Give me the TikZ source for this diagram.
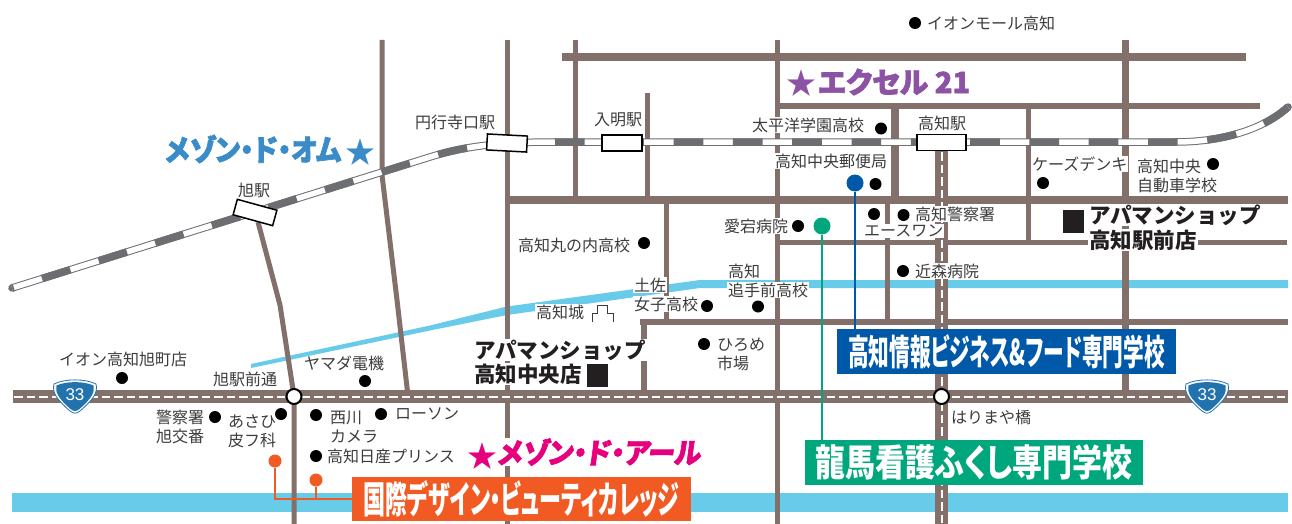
\documentclass[tikz,border=0pt]{standalone}
\usepackage{graphicx}
\usepackage{fontspec}
\setmainfont{Noto Sans CJK JP}
\newfontfamily\jpfont{Noto Sans CJK JP}
\newfontfamily\jpheavy{Noto Sans CJK JP}[RawFeature={+palt},BoldFeatures={FakeBold=2.2,RawFeature={+palt}}]
\newfontfamily\jpslant{Noto Sans CJK JP}[RawFeature={+palt},BoldFeatures={FakeSlant=0.14,FakeBold=2.4,RawFeature={+palt}}]
\newfontfamily\jpbanner{Noto Sans CJK JP}[RawFeature={+palt},BoldFeatures={RawFeature={+palt}}]
\newfontfamily\latinfont{Liberation Sans}
\definecolor{road}{HTML}{84706A}
\definecolor{river}{HTML}{68CBEA}
\definecolor{railgrey}{HTML}{6D6E71}
\definecolor{labeltxt}{HTML}{3C3C3C}
\definecolor{shieldblue}{HTML}{2273AD}
\definecolor{bannerblue}{HTML}{0058A8}
\definecolor{bannergreen}{HTML}{00A77D}
\definecolor{bannerorange}{HTML}{F15A22}
\definecolor{omblue}{HTML}{3A8CC9}
\definecolor{excelpurple}{HTML}{8C52A3}
\definecolor{arupink}{HTML}{E6007E}
\definecolor{shopblack}{HTML}{231F20}
\tikzset{
  rd/.style={draw=road,line width=#1},
  rd/.default=5,
  wdash/.style={draw=white,line width=2,dash pattern=on 8.5pt off 4pt},
  dotnode/.style={circle,fill=black,inner sep=0pt,minimum size=12pt},
  lbl/.style={anchor=west,inner sep=0pt,text=labeltxt,font=\jpfont\fontsize{16}{19}\selectfont,align=left},
  lblh/.style={lbl,fill=white,inner sep=.8pt,xshift=-.8pt},
  shop/.style={anchor=west,inner sep=0pt,text=shopblack,font=\jpfont\bfseries\fontsize{21.5}{25}\selectfont,align=left},
  shoph/.style={shop,fill=white,inner sep=.8pt,xshift=-1.8pt},
  shopsq/.style={fill=shopblack,inner sep=0pt,minimum width=21pt,minimum height=23pt},
  station/.style={draw=black,fill=white,line width=1.5pt,inner sep=0pt,minimum height=16pt},
  banner/.style={inner sep=0pt,text=white,font=\jpbanner\bfseries\fontsize{30}{30}\selectfont},
  junction/.style={circle,draw=black,fill=white,line width=2pt,inner sep=0pt,minimum size=15pt},
  bigdot/.style={circle,inner sep=0pt,minimum size=#1},
  lead/.style={line width=2pt},
  starmark/.style={inner sep=0pt,font=\jpfont\fontsize{30}{30}\selectfont},
}
\newcommand{\shieldat}[3]{%
  \begin{scope}[shift={(#1,#2)}]
    \fill[white] (-21,-12) .. controls (-10,-17.5) and (10,-17.5) .. (21,-12) .. controls (23,-4) and (19,3) .. (5,15) .. controls (1,18) and (-1,18) .. (-5,15) .. controls (-19,3) and (-23,-4) .. (-21,-12) -- cycle;
    \draw[shieldblue,line width=.8pt] (-21,-12) .. controls (-10,-17.5) and (10,-17.5) .. (21,-12) .. controls (23,-4) and (19,3) .. (5,15) .. controls (1,18) and (-1,18) .. (-5,15) .. controls (-19,3) and (-23,-4) .. (-21,-12) -- cycle;
    \fill[shieldblue] (-18.5,-10.5) .. controls (-9,-15) and (9,-15) .. (18.5,-10.5) .. controls (20,-4) and (17,2) .. (4.5,13) .. controls (1,15.7) and (-1,15.7) .. (-4.5,13) .. controls (-17,2) and (-20,-4) .. (-18.5,-10.5) -- cycle;
    \node[inner sep=0pt,text=white,font=\latinfont\fontsize{17}{17}\selectfont] (#3) at (0,-1) {33};
  \end{scope}}
\begin{document}
\begin{tikzpicture}[x=1pt,y=-1pt]
\useasboundingbox (0,0) rectangle (1292,524);
\fill[white] (0,0) rectangle (1292,524);
% rivers
\fill[river] (12,493) rectangle (1288,512);
\fill[river] (251,364) -- (430,325.5) -- (507,306.5) -- (700,280) -- (1288,280) -- (1288,288) -- (700,288) -- (507,315) -- (430,330.5) -- (251,368) -- cycle;
% horizontal roads
\draw[rd=8] (562,57) -- (1246,57);
\draw[rd=6] (776,106) -- (1260,106);
\draw[rd=8] (507,200) -- (1288,200);
\draw[rd=5] (777,242) -- (1287,242);
\draw[rd=6.5] (640,322) -- (1288,322);
% vertical roads
\draw[rd=5] (258,222) -- (280,305) -- (294,396) -- (294,524);
\draw[rd=5] (382,40) -- (382,175) -- (397,300) -- (408,396);
\draw[rd=5] (507,40) -- (507,524);
\draw[rd=5] (575,40) -- (575,200);
\draw[rd=5] (647,93) -- (647,200);
\draw[rd=5] (666,200) -- (666,322);
\draw[rd=6] (644,322) -- (644,396);
\draw[rd=5] (777,40) -- (777,524);
\draw[rd=8] (895,106) -- (895,200);
\draw[rd=5] (887,200) -- (887,322);
\draw[rd=5] (1028,106) -- (1028,242);
\draw[rd=7] (1125.5,40) -- (1125.5,396);
% national route
\draw[rd=13] (13,396.5) -- (1288,396.5);
\draw[wdash] (14,396.5) -- (1288,396.5);
% dashed street from Kochi station
\draw[rd=13] (941.5,150) -- (941.5,524);
\draw[wdash] (941.5,152) -- (941.5,524);
% railway
\def\railL{(12,288) -- (430,157) .. controls (465,146) and (500,142) .. (555,142)}
\def\railR{(555,142) -- (1175,142) .. controls (1225,142) and (1265,128) .. (1288,107)}
\draw[railgrey,line width=7.5pt,line cap=round] \railL;
\draw[railgrey,line width=7.5pt,line cap=round] \railR;
\draw[white,line width=5.5pt] \railL;
\draw[white,line width=5.5pt] \railR;
\draw[railgrey,line width=7.5pt,dash pattern=on 29.65pt off 29.65pt,dash phase=27.8pt] \railL;
\draw[railgrey,line width=7.5pt,dash pattern=on 29.65pt off 29.65pt] \railR;
% stations
\node[station,minimum width=41pt,rotate=-15.4] (stAsahi) at (255,212.5) {};
\node[station,minimum width=40pt,rotate=-3] (stEngyoji) at (507,143) {};
\node[station,minimum width=40pt] (stIriake) at (622,143) {};
\node[station,minimum width=49pt] (stKochi) at (941.5,142.5) {};
% junctions
\node[junction] (jAsahi) at (294,396.5) {};
\node[junction] (jHariya) at (941.5,396.5) {};
% shields
\shieldat{75}{396}{shieldW}
\shieldat{1207}{396}{shieldE}
% labels
\node[dotnode] (dAeonMall) at (915,23) {};
\node[lbl] (tAeonMall) at (927,23) {イオンモール高知};
\node[lblh] (tTaiheiyo) at (752,125) {太平洋学園高校};
\node[dotnode] (dTaiheiyo) at (881,128.5) {};
\node[lblh] (tPost) at (775,161) {高知中央郵便局};
\node[dotnode] (dPost) at (875.5,184) {};
\node[lblh] (tKs) at (1032,164) {ケーズデンキ};
\node[dotnode] (dKs) at (1043,183) {};
\node[lbl,text depth=0pt] (tDriving) at (1137,175) {高知中央\\自動車学校};
\node[dotnode] (dDriving) at (1213,164) {};
\node[dotnode] (dPolice) at (903.5,215) {};
\node[lblh] (tPolice) at (915,214) {高知警察署};
\node[dotnode] (dAce) at (874,214) {};
\node[lblh] (tAce) at (864,231) {エースワン};
\node[dotnode] (dChikamori) at (903,271) {};
\node[lblh] (tChikamori) at (915,271) {近森病院};
\node[lblh] (tAtago) at (724,226) {愛宕病院};
\node[dotnode] (dAtago) at (798,226) {};
\node[lbl] (tMarunouchi) at (518,245) {高知丸の内高校};
\node[dotnode] (dMarunouchi) at (644,243) {};
\node[lblh] (tTosa) at (634,285) {土佐};
\node[lblh] (tJoshi) at (634,304) {女子高校};
\node[dotnode] (dJoshi) at (707,306) {};
\node[lblh] (tOte1) at (728,271) {高知};
\node[lblh] (tOte2) at (728,290) {追手前高校};
\node[dotnode] (dOte) at (758,306.5) {};
\node[lblh] (tCastle) at (536,312) {高知城};
\draw[labeltxt,line width=1pt] (592,322) -- (592,313) -- (597,313) -- (597,305) -- (607,305) -- (607,313) -- (613,313) -- (613,322);
\node[dotnode] (dHirome) at (704,344) {};
\node[lbl] (tHirome) at (717,354) {ひろめ\\市場};
\node[lbl] (tAeonAsahi) at (59,359) {イオン高知旭町店};
\node[dotnode] (dAeonAsahi) at (122,378) {};
\node[lbl] (tYamada) at (304,363) {ヤマダ電機};
\node[dotnode] (dYamada) at (365,381) {};
\node[lbl] (tMaedori) at (213,379) {旭駅前通};
\node[lbl] (tAsahi) at (238,190) {旭駅};
\node[lbl] (tEngyoji) at (415,122) {円行寺口駅};
\node[lbl] (tIriake) at (594,120) {入明駅};
\node[lbl] (tKochi) at (918,123) {高知駅};
\node[lbl] (tKoban) at (156,427) {警察署\\旭交番};
\node[dotnode] (dKoban) at (215,417) {};
\node[lbl] (tAsahiDerm) at (228,431) {あさひ\\皮フ科};
\node[dotnode] (dAsahiDerm) at (281,414) {};
\node[dotnode] (dNishikawa) at (316,415) {};
\node[lbl] (tNishikawa) at (330,427) {西川\\カメラ};
\node[dotnode] (dLawson) at (381,414) {};
\node[lbl] (tLawson) at (395,414) {ローソン};
\node[dotnode] (dNissan) at (316,456) {};
\node[lbl] (tNissan) at (327,456) {高知日産プリンス};
\node[lbl] (tHariya) at (951,417) {はりまや橋};
% shops
\node[shopsq] (sqEki) at (1073.5,221.5) {};
\node[shoph] (tShopEki1) at (1090,215) {\bfseries アパマンショップ};
\node[shoph] (tShopEki2) at (1090,240) {\bfseries 高知駅前店};
\node[shopsq] (sqChuo) at (597.5,375.5) {};
\node[shoph] (tShopChuo1) at (475,350) {\bfseries アパマンショップ};
\node[shoph] (tShopChuo2) at (475,374) {\bfseries 高知中央店};
% salon names
\node[anchor=west,inner sep=0pt,text=omblue,font=\jpheavy\bfseries\fontsize{27}{27}\selectfont] (tOm) at (165,149) {\resizebox{176pt}{26pt}{メゾン・ド・オム}};
\node[starmark,text=omblue] (starOm) at (360,152) {★};
\node[starmark,text=excelpurple] (starExcel) at (801,83) {★};
\node[anchor=west,inner sep=0pt,text=excelpurple,font=\jpheavy\bfseries\fontsize{27}{27}\selectfont] (tExcel) at (818,82) {\resizebox{152pt}{!}{エクセル 21}};
\node[starmark,text=arupink,fill=white] (starAru) at (482,456) {★};
\node[anchor=west,inner sep=0pt,fill=white,text=arupink,font=\jpslant\bfseries\fontsize{27}{27}\selectfont] (tAru) at (497,452) {\resizebox{203pt}{25pt}{メゾン・ド・アール}};
% school banners
\node[fill=bannerblue,minimum width=339pt,minimum height=45pt,banner] (bBlue) at (1006.5,351.5) {\resizebox{317pt}{31pt}{高知情報ビジネス\&フード専門学校}};
\node[fill=bannergreen,minimum width=338pt,minimum height=45pt,banner] (bGreen) at (974,462.5) {\resizebox{317pt}{32pt}{龍馬看護ふくし専門学校}};
\node[fill=bannerorange,minimum width=339pt,minimum height=44pt,banner] (bOrange) at (521.5,499) {\resizebox{316pt}{33pt}{国際デザイン・ビューティカレッジ}};
% leaders
\node[bigdot=17pt,fill=bannerblue] (pBlue) at (855,183) {};
\draw[lead,bannerblue] (pBlue) -- (pBlue |- bBlue.north);
\node[bigdot=17pt,fill=bannergreen] (pGreen) at (822,226) {};
\draw[lead,bannergreen] (pGreen) -- (pGreen |- bGreen.north);
\node[bigdot=13pt,fill=bannerorange] (pOrangeA) at (275,461) {};
\node[bigdot=13pt,fill=bannerorange] (pOrangeB) at (316,480) {};
\draw[lead,bannerorange] (pOrangeA) |- (bOrange.west);
\draw[lead,bannerorange] (pOrangeB) -- (pOrangeB |- bOrange.west);
\end{tikzpicture}
\end{document}
